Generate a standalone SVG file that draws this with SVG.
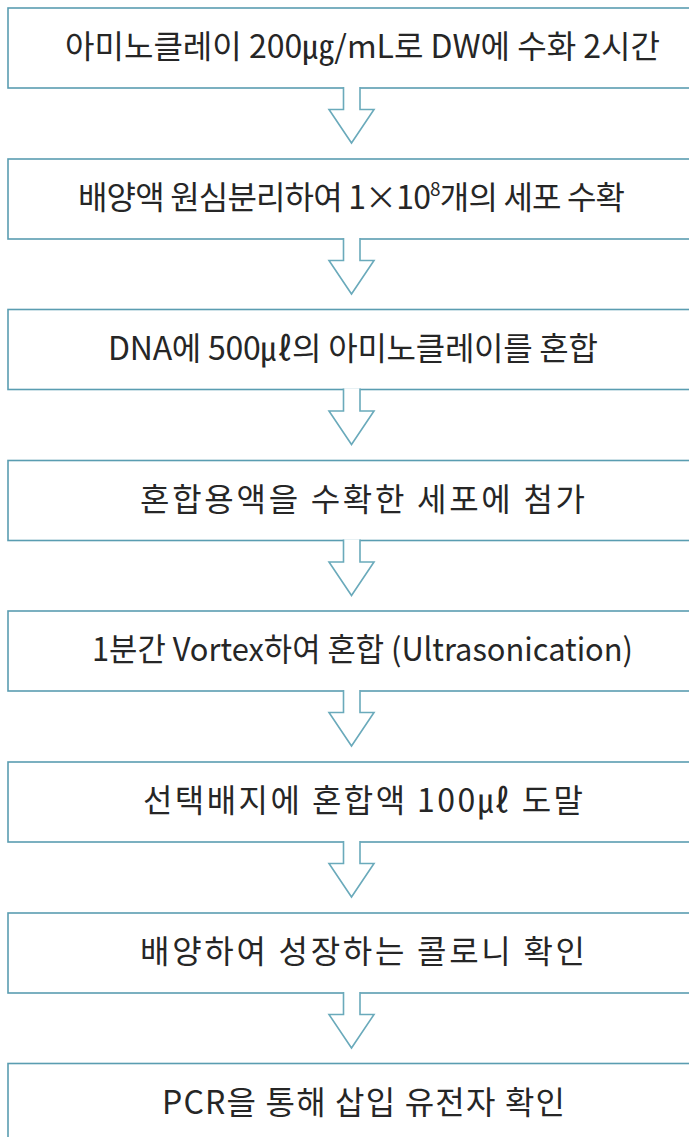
<svg xmlns="http://www.w3.org/2000/svg" width="689" height="1137" viewBox="0 0 689 1137">
  <style>
    .box { fill: #ffffff; stroke: #5a9db1; stroke-width: 1.6; }
    .arrow { fill: #ffffff; stroke: #6aaabb; stroke-width: 1.6; stroke-linejoin: miter; }
    .label { font-family: "Noto Sans CJK KR", "Malgun Gothic", sans-serif; font-size: 32px; fill: #262626; }
    .sup { font-size: 19px; }
  </style>
  <rect width="689" height="1137" fill="#ffffff"/>

  <!-- process steps -->
  <g id="step1">
    <rect class="box" x="8" y="8" width="720" height="80"/>
    <text class="label" x="65" y="58" textLength="595" lengthAdjust="spacingAndGlyphs">아미노클레이 200㎍/mL로 DW에 수화 2시간</text>
  </g>
  <g id="step2">
    <rect class="box" x="8" y="159" width="720" height="80"/>
    <text class="label" x="78" y="209" textLength="547">배양액 원심분리하여 1×10<tspan class="sup" baseline-shift="super">8</tspan>개의 세포 수확</text>
  </g>
  <g id="step3">
    <rect class="box" x="8" y="309.5" width="720" height="80"/>
    <text class="label" x="108" y="359.5" textLength="490">DNA에 500㎕의 아미노클레이를 혼합</text>
  </g>
  <g id="step4">
    <rect class="box" x="8" y="460.5" width="720" height="80"/>
    <text class="label" x="140" y="510.5" textLength="445">혼합용액을 수확한 세포에 첨가</text>
  </g>
  <g id="step5">
    <rect class="box" x="8" y="611" width="720" height="80"/>
    <text class="label" x="92" y="661" textLength="541" lengthAdjust="spacingAndGlyphs">1분간 Vortex하여 혼합 (Ultrasonication)</text>
  </g>
  <g id="step6">
    <rect class="box" x="8" y="762" width="720" height="80"/>
    <text class="label" x="143" y="812" textLength="440">선택배지에 혼합액 100㎕ 도말</text>
  </g>
  <g id="step7">
    <rect class="box" x="8" y="913" width="720" height="80"/>
    <text class="label" x="140" y="963" textLength="445">배양하여 성장하는 콜로니 확인</text>
  </g>
  <g id="step8">
    <rect class="box" x="8" y="1063.5" width="720" height="80"/>
    <text class="label" x="162" y="1113.5" textLength="403">PCR을 통해 삽입 유전자 확인</text>
  </g>

  <!-- hollow block arrows between steps -->
  <g id="connectors">
    <path class="arrow" d="M343.5,87 V109.5 H329 L351.5,143 L374,109.5 H360 V87"/>
    <path class="arrow" d="M343.5,238 V260.5 H329 L351.5,294 L374,260.5 H360 V238"/>
    <path class="arrow" d="M343.5,388.5 V411 H329 L351.5,444.5 L374,411 H360 V388.5"/>
    <path class="arrow" d="M343.5,539.5 V562 H329 L351.5,595.5 L374,562 H360 V539.5"/>
    <path class="arrow" d="M343.5,690 V712.5 H329 L351.5,746 L374,712.5 H360 V690"/>
    <path class="arrow" d="M343.5,841 V863.5 H329 L351.5,897 L374,863.5 H360 V841"/>
    <path class="arrow" d="M343.5,992 V1014.5 H329 L351.5,1048 L374,1014.5 H360 V992"/>
  </g>
</svg>
